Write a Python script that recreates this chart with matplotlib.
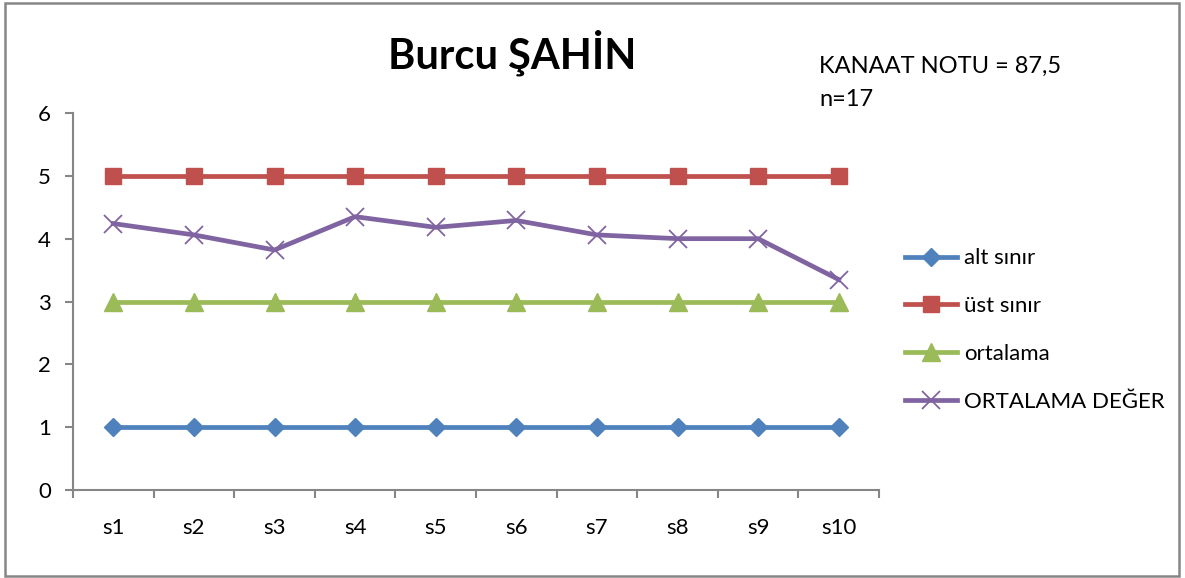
import matplotlib.pyplot as plt
from matplotlib.patches import Rectangle

plt.rcParams['font.family'] = ['Lato', 'DejaVu Sans']

# data
categories = ["s1", "s2", "s3", "s4", "s5", "s6", "s7", "s8", "s9", "s10"]
alt_sinir = [1, 1, 1, 1, 1, 1, 1, 1, 1, 1]
ust_sinir = [5, 5, 5, 5, 5, 5, 5, 5, 5, 5]
ortalama = [3, 3, 3, 3, 3, 3, 3, 3, 3, 3]
ortalama_deger = [4.24, 4.06, 3.82, 4.35, 4.18, 4.29, 4.06, 4.0, 4.0, 3.35]
y_ticks = [0, 1, 2, 3, 4, 5, 6]

W, H = 1185, 578
fig = plt.figure(figsize=(W / 100, H / 100), dpi=100)
ax = fig.add_axes([73 / W, (H - 490) / H, (879 - 73) / W, (490 - 113) / H])

x = list(range(len(categories)))
lw = 3.4
ax.plot(x, alt_sinir, color="#4F81BD", lw=lw, marker="D", ms=9, label="alt sınır")
ax.plot(x, ust_sinir, color="#C0504D", lw=lw, marker="s", ms=11.5, label="üst sınır")
ax.plot(x, ortalama, color="#9BBB59", lw=lw, marker="^", ms=13, label="ortalama")
ax.plot(x, ortalama_deger, color="#8064A2", lw=lw, marker="x", ms=13, mew=1.3,
        label="ORTALAMA DEĞER")

ax.set_xlim(-0.5, len(categories) - 0.5)
ax.set_ylim(0, 6)
ax.set_yticks(y_ticks)
ax.set_xticks([i - 0.5 for i in range(len(categories) + 1)])
ax.set_xticklabels([])
ax.set_xticks(x, minor=True)
ax.set_xticklabels(categories, minor=True)
ax.tick_params(axis="x", which="major", length=6, width=1.5, color="#868686", direction="out")
ax.tick_params(axis="x", which="minor", length=0, pad=20, labelsize=16)
ax.tick_params(axis="y", length=6, width=1.5, color="#868686", direction="out", labelsize=16, pad=10)
for s in ["top", "right"]:
    ax.spines[s].set_visible(False)
for s in ["left", "bottom"]:
    ax.spines[s].set_color("#868686")
    ax.spines[s].set_linewidth(1.5)

fig.text(512 / W, 1 - 53 / H, "Burcu ŞAHİN", ha="center", va="center",
         fontsize=30, fontweight="bold")
fig.text(819 / W, 1 - 66 / H, "KANAAT NOTU = 87,5", ha="left", va="center", fontsize=17)
fig.text(819 / W, 1 - 99 / H, "n=17", ha="left", va="center", fontsize=17)

fig.legend(loc="center left", bbox_to_anchor=(885 / W, 1 - 330 / H), frameon=False,
           fontsize=16, handlelength=2.35, handletextpad=0.3, labelspacing=1.25)

fig.patches.append(Rectangle((5 / W, 2 / H), 1174 / W, 573 / H, transform=fig.transFigure,
                             fill=False, edgecolor="#868686", lw=1.8))

fig.savefig("out.png", dpi=100)
